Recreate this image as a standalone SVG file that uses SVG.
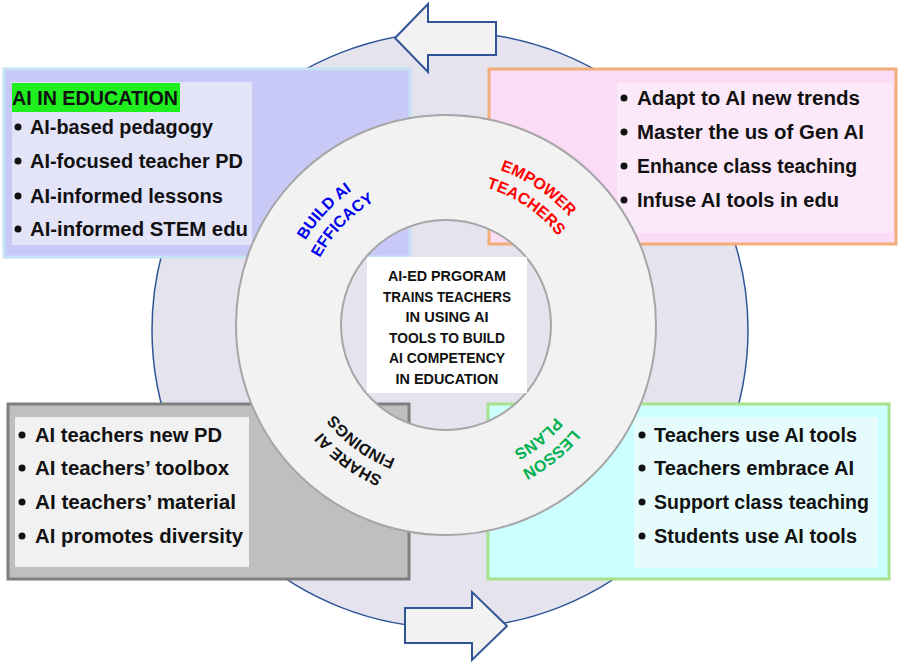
<svg xmlns="http://www.w3.org/2000/svg" xmlns:xlink="http://www.w3.org/1999/xlink" width="900" height="665" viewBox="0 0 900 665">
<style>
  .item { font-family: "Liberation Sans", Arial, sans-serif; font-weight: bold; font-size: 20px; fill: #111; }
  .ctr { font-family: "Liberation Sans", Arial, sans-serif; font-weight: bold; font-size: 15px; fill: #111; text-anchor: middle; }
  .ring { font-family: "Liberation Sans", Arial, sans-serif; font-weight: bold; font-size: 16px; }
  .bul { fill: #111; }
  .arrow { fill: #f2f2f2; stroke: #2f5597; stroke-width: 2; stroke-linejoin: miter; }
</style>
<defs>
  <path id="pBuild" d="M299.9,399.5 A164,164 0 0,1 510.1,174.0"/>
  <path id="pEff" d="M317.5,387.7 A143,143 0 0,1 504.2,194.4"/>
  <path id="pEmp" d="M349.6,192.3 A164,164 0 0,1 605.1,364.7"/>
  <path id="pTea" d="M361.9,209.3 A143,143 0 0,1 584.8,359.6"/>
  <path id="pShare" d="M537.7,461.0 A164,164 0 0,1 288.3,279.8"/>
  <path id="pFind" d="M526.0,443.5 A143,143 0 0,1 308.5,285.6"/>
  <path id="pLesson" d="M601.1,271.6 A164,164 0 0,1 361.5,465.6"/>
  <path id="pPlans" d="M581.2,278.4 A143,143 0 0,1 372.4,447.6"/>
</defs>

<g id="background-cycle">
  <circle cx="450" cy="330" r="298" fill="#e5e3ed" stroke="#2f5597" stroke-width="1.5"/>
</g>

<g id="connectors">
  <polygon class="arrow" points="395,38 428,4 428,22 496,22 496,55 428,55 428,72"/>
  <polygon class="arrow" points="405,608 472,608 472,592 507,626 472,660 472,643 405,643"/>
</g>

<g id="ai-in-education">
  <rect x="4" y="69" width="406" height="188" fill="#c9c9f8" stroke="#c4e2f4" stroke-width="3"/>
  <rect x="12" y="82" width="240" height="163" fill="#e4e4f8"/>
  <rect x="12" y="83" width="168" height="29" fill="#1fee1f"/>
  <text class="item" x="12" y="105" textLength="166" lengthAdjust="spacingAndGlyphs">AI IN EDUCATION</text>
  <circle class="bul" cx="18" cy="127" r="3.5"/>
  <text class="item" x="30" y="134" textLength="183" lengthAdjust="spacingAndGlyphs">AI-based pedagogy</text>
  <circle class="bul" cx="18" cy="161" r="3.5"/>
  <text class="item" x="30" y="168" textLength="213" lengthAdjust="spacingAndGlyphs">AI-focused teacher PD</text>
  <circle class="bul" cx="18" cy="196" r="3.5"/>
  <text class="item" x="30" y="203" textLength="193" lengthAdjust="spacingAndGlyphs">AI-informed lessons</text>
  <circle class="bul" cx="18" cy="229" r="3.5"/>
  <text class="item" x="30" y="236" textLength="218" lengthAdjust="spacingAndGlyphs">AI-informed STEM edu</text>
</g>

<g id="empower-box">
  <rect x="489" y="69" width="407" height="175" fill="#fadcf6" stroke="#f2ad78" stroke-width="3"/>
  <rect x="617" y="83" width="276" height="150" fill="#fbe9f9"/>
  <circle class="bul" cx="624" cy="98" r="3.5"/>
  <text class="item" x="637" y="105" textLength="223" lengthAdjust="spacingAndGlyphs">Adapt to AI new trends</text>
  <circle class="bul" cx="624" cy="132" r="3.5"/>
  <text class="item" x="637" y="139" textLength="227" lengthAdjust="spacingAndGlyphs">Master the us of Gen AI</text>
  <circle class="bul" cx="624" cy="166" r="3.5"/>
  <text class="item" x="637" y="173" textLength="220" lengthAdjust="spacingAndGlyphs">Enhance class teaching</text>
  <circle class="bul" cx="624" cy="200" r="3.5"/>
  <text class="item" x="637" y="207" textLength="202" lengthAdjust="spacingAndGlyphs">Infuse AI tools in edu</text>
</g>

<g id="share-box">
  <rect x="8" y="404" width="401" height="175" fill="#bfbfbf" stroke="#7f7f7f" stroke-width="3"/>
  <rect x="15" y="417" width="234" height="150" fill="#f1f1f1"/>
  <circle class="bul" cx="22" cy="435" r="3.5"/>
  <text class="item" x="35" y="442" textLength="187" lengthAdjust="spacingAndGlyphs">AI teachers new PD</text>
  <circle class="bul" cx="22" cy="468" r="3.5"/>
  <text class="item" x="35" y="475" textLength="194" lengthAdjust="spacingAndGlyphs">AI teachers’ toolbox</text>
  <circle class="bul" cx="22" cy="502" r="3.5"/>
  <text class="item" x="35" y="509" textLength="201" lengthAdjust="spacingAndGlyphs">AI teachers’ material</text>
  <circle class="bul" cx="22" cy="536" r="3.5"/>
  <text class="item" x="35" y="543" textLength="208" lengthAdjust="spacingAndGlyphs">AI promotes diversity</text>
</g>

<g id="lesson-box">
  <rect x="488" y="404" width="401" height="175" fill="#ccffff" stroke="#a8e28c" stroke-width="3"/>
  <rect x="634" y="417" width="244" height="151" fill="#e6fcfc"/>
  <circle class="bul" cx="642" cy="435" r="3.5"/>
  <text class="item" x="654" y="442" textLength="203" lengthAdjust="spacingAndGlyphs">Teachers use AI tools</text>
  <circle class="bul" cx="642" cy="468" r="3.5"/>
  <text class="item" x="654" y="475" textLength="200" lengthAdjust="spacingAndGlyphs">Teachers embrace AI</text>
  <circle class="bul" cx="642" cy="502" r="3.5"/>
  <text class="item" x="654" y="509" textLength="215" lengthAdjust="spacingAndGlyphs">Support class teaching</text>
  <circle class="bul" cx="642" cy="536" r="3.5"/>
  <text class="item" x="654" y="543" textLength="203" lengthAdjust="spacingAndGlyphs">Students use AI tools</text>
</g>

<g id="ring">
  <path fill="#f2f2f2" fill-rule="evenodd" stroke="#a6a6a6" stroke-width="2" d="M236,325 A210,210 0 1,0 656,325 A210,210 0 1,0 236,325 Z M341,325 A105,105 0 1,0 551,325 A105,105 0 1,0 341,325 Z"/>
  <text class="ring" fill="#0000ee" text-anchor="middle"><textPath xlink:href="#pBuild" href="#pBuild" startOffset="50%">BUILD AI</textPath></text>
  <text class="ring" fill="#0000ee" text-anchor="middle"><textPath xlink:href="#pEff" href="#pEff" startOffset="50%">EFFICACY</textPath></text>
  <text class="ring" fill="#ff0000" text-anchor="middle"><textPath xlink:href="#pEmp" href="#pEmp" startOffset="50%">EMPOWER</textPath></text>
  <text class="ring" fill="#ff0000" text-anchor="middle"><textPath xlink:href="#pTea" href="#pTea" startOffset="50%">TEACHERS</textPath></text>
  <text class="ring" fill="#111111" text-anchor="middle"><textPath xlink:href="#pShare" href="#pShare" startOffset="50%">SHARE AI</textPath></text>
  <text class="ring" fill="#111111" text-anchor="middle"><textPath xlink:href="#pFind" href="#pFind" startOffset="50%">FINDINGS</textPath></text>
  <text class="ring" fill="#00b050" text-anchor="middle"><textPath xlink:href="#pLesson" href="#pLesson" startOffset="50%">LESSON</textPath></text>
  <text class="ring" fill="#00b050" text-anchor="middle"><textPath xlink:href="#pPlans" href="#pPlans" startOffset="50%">PLANS</textPath></text>
</g>

<g id="center">
  <rect x="367" y="257" width="160" height="136" fill="#ffffff"/>
  <text class="ctr" x="447" y="281" textLength="118" lengthAdjust="spacingAndGlyphs">AI-ED PRGORAM</text>
  <text class="ctr" x="447" y="302" textLength="128" lengthAdjust="spacingAndGlyphs">TRAINS TEACHERS</text>
  <text class="ctr" x="447" y="322" textLength="83" lengthAdjust="spacingAndGlyphs">IN USING AI</text>
  <text class="ctr" x="447" y="343" textLength="116" lengthAdjust="spacingAndGlyphs">TOOLS TO BUILD</text>
  <text class="ctr" x="447" y="363" textLength="116" lengthAdjust="spacingAndGlyphs">AI COMPETENCY</text>
  <text class="ctr" x="447" y="384" textLength="103" lengthAdjust="spacingAndGlyphs">IN EDUCATION</text>
</g>
</svg>
